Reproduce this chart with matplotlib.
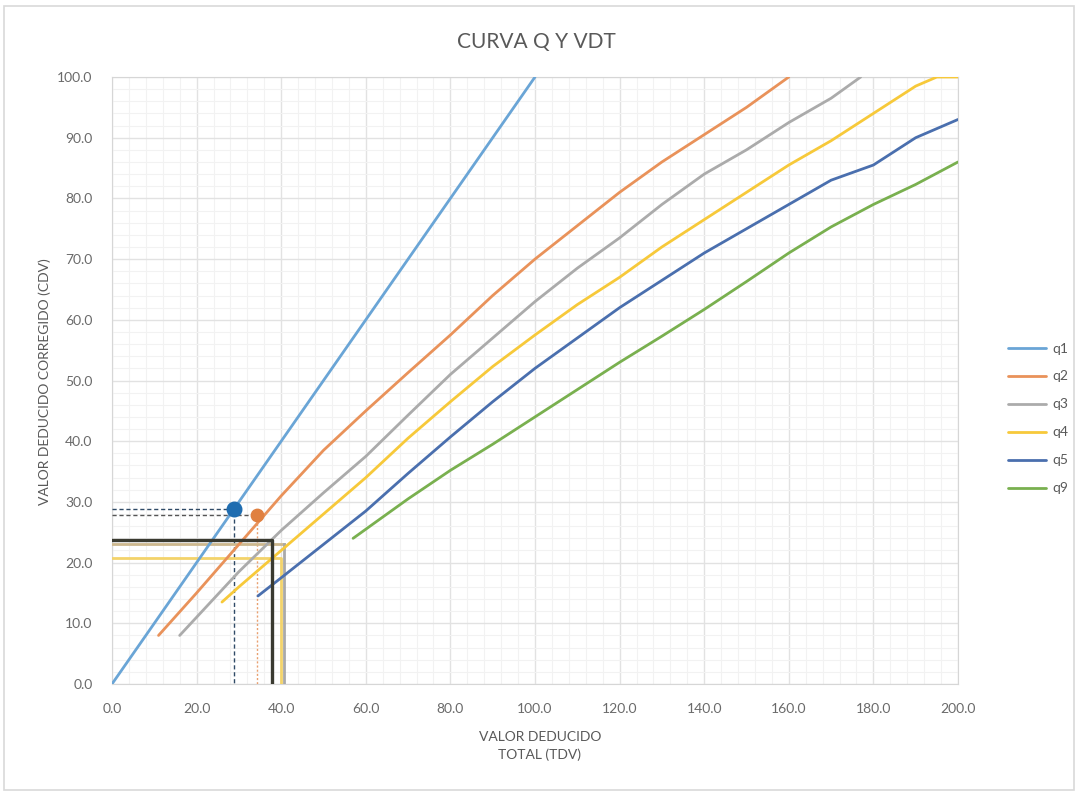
import matplotlib
matplotlib.use("Agg")
import matplotlib.pyplot as plt
from matplotlib.patches import Rectangle
from matplotlib.ticker import MultipleLocator, FormatStrFormatter

plt.rcParams['font.family'] = ['Lato', 'DejaVu Sans']

# ---- data ----
series_names = ["q1", "q2", "q3", "q4", "q5", "q9"]
q1_x = [0, 100]
q1_y = [0, 100]
q2_x = [11, 20, 30, 40, 50, 60, 70, 80, 90, 100, 110, 120, 130, 140, 150, 160]
q2_y = [8, 15, 23, 31, 38.5, 45, 51.3, 57.5, 64, 70, 75.5, 81, 86, 90.5, 95, 100]
q3_x = [16, 20, 30, 40, 50, 60, 70, 80, 90, 100, 110, 120, 130, 140, 150, 160, 170, 177]
q3_y = [8, 11, 18.5, 25.3, 31.5, 37.5, 44.3, 51, 57, 63, 68.5, 73.5, 79, 84, 88, 92.5, 96.5, 100]
q4_x = [26, 30, 40, 50, 60, 70, 80, 90, 100, 110, 120, 130, 140, 150, 160, 170, 180, 190, 195, 200]
q4_y = [13.5, 16, 22, 28, 34, 40.5, 46.5, 52.3, 57.5, 62.5, 67, 72, 76.5, 81, 85.5, 89.5, 94, 98.5, 100, 100]
q5_x = [34.5, 40, 50, 60, 70, 80, 90, 100, 110, 120, 130, 140, 150, 160, 170, 180, 190, 200]
q5_y = [14.5, 17.5, 23, 28.5, 34.7, 40.7, 46.5, 52, 57, 62, 66.5, 71, 75, 79, 83, 85.5, 90, 93]
q9_x = [57, 60, 70, 80, 90, 100, 110, 120, 130, 140, 150, 160, 170, 180, 190, 200]
q9_y = [24, 25.5, 30.5, 35.2, 39.5, 44, 48.5, 53, 57.3, 61.7, 66.3, 71, 75.3, 79, 82.3, 86]

# reference points / lines (x, y)
blue_pt = (28.8, 28.8)
orange_pt = (34.3, 27.9)
black_ref = (37.8, 23.7)
gray_ref = (40.7, 23.0)
yellow_ref = (40.0, 20.7)

x_ticks = [0, 20, 40, 60, 80, 100, 120, 140, 160, 180, 200]
y_ticks = [0, 10, 20, 30, 40, 50, 60, 70, 80, 90, 100]

colors = ["#6aa5d6", "#e9925a", "#ababab", "#f7c93a", "#4a6fae", "#79b04f"]

fig = plt.figure(figsize=(10.79, 7.92), dpi=100)
fig.patch.set_facecolor("white")
fig.patches.append(Rectangle((4 / 1079, 2 / 792), 1070 / 1079, 784 / 792,
                             transform=fig.transFigure, fill=False,
                             edgecolor="#d9d9d9", linewidth=1.2))

ax = fig.add_axes([112 / 1079, 1 - 684 / 792, 846 / 1079, 607 / 792])
ax.set_xlim(0, 200)
ax.set_ylim(0, 100)
ax.xaxis.set_minor_locator(MultipleLocator(4))
ax.yaxis.set_minor_locator(MultipleLocator(2))
ax.set_xticks(x_ticks)
ax.set_yticks(y_ticks)
ax.xaxis.set_major_formatter(FormatStrFormatter("%.1f"))
ax.yaxis.set_major_formatter(FormatStrFormatter("%.1f"))
ax.grid(which="major", color="#e2e2e2", linewidth=1.0)
ax.grid(which="minor", color="#f2f2f2", linewidth=0.8)
ax.set_axisbelow(True)
for s in ax.spines.values():
    s.set_color("#d6d6d6")
ax.tick_params(which="both", length=0, colors="#6a6a6a", labelsize=10)
ax.tick_params(axis="x", pad=14)
ax.tick_params(axis="y", pad=14)

# reference lines
ax.plot([0, blue_pt[0], blue_pt[0]], [blue_pt[1], blue_pt[1], 0], color="#2f4a66",
        linestyle=(0, (3, 2)), linewidth=1.0, zorder=3)
ax.plot([0, orange_pt[0]], [orange_pt[1], orange_pt[1]], color="#555555",
        linestyle=(0, (3, 2)), linewidth=1.0, zorder=3)
ax.plot([orange_pt[0], orange_pt[0]], [orange_pt[1], 0], color="#e9a070",
        linestyle=(0, (1.5, 1.5)), linewidth=1.0, zorder=3)
ax.plot([0, yellow_ref[0], yellow_ref[0]], [yellow_ref[1], yellow_ref[1], 0],
        color="#f3d36a", linewidth=2.0, zorder=3)
ax.plot([0, gray_ref[0]], [gray_ref[1], gray_ref[1]], color="#cdb88e", linewidth=2.0, zorder=3)
ax.plot([gray_ref[0], gray_ref[0]], [gray_ref[1], 0], color="#a9a9a9", linewidth=2.0, zorder=3)

# curves
xs = [q1_x, q2_x, q3_x, q4_x, q5_x, q9_x]
ys = [q1_y, q2_y, q3_y, q4_y, q5_y, q9_y]
for name, x, y, c in zip(series_names, xs, ys, colors):
    ax.plot(x, y, color=c, linewidth=2.0, label=name, zorder=4,
            solid_capstyle="round", solid_joinstyle="round")

ax.plot([0, black_ref[0], black_ref[0]], [black_ref[1], black_ref[1], 0],
        color="#3a3a30", linewidth=2.4, zorder=5)

ax.scatter([blue_pt[0]], [blue_pt[1]], s=110, color="#1f6db0", zorder=6)
ax.scatter([orange_pt[0]], [orange_pt[1]], s=80, color="#e08040", zorder=6)

fig.text(536 / 1079, 1 - 42 / 792, "CURVA Q Y VDT", ha="center", va="center",
         fontsize=15, color="#595959")
fig.text(540 / 1079, 1 - 746 / 792, "VALOR DEDUCIDO\nTOTAL (TDV)", ha="center",
         va="center", fontsize=10, color="#595959", linespacing=1.6)
fig.text(45 / 1079, 1 - 382 / 792, "VALOR DEDUCIDO CORREGIDO (CDV)", ha="center",
         va="center", rotation=90, fontsize=10, color="#595959")

handles, labels = ax.get_legend_handles_labels()
leg = fig.legend(handles, labels, loc="upper left",
                 bbox_to_anchor=(995 / 1079, 1 - 330 / 792),
                 frameon=False, fontsize=10, handlelength=2.8,
                 labelspacing=1.15, handletextpad=0.4, labelcolor="#595959")

fig.savefig("out.png", dpi=100, facecolor="white")
